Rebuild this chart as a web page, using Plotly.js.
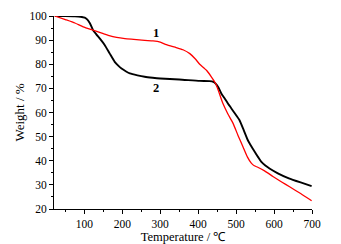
<!DOCTYPE html>
<html><head><meta charset="utf-8">
<script src="https://cdn.plot.ly/plotly-3.0.1.min.js"></script>
<style>html,body{margin:0;padding:0;background:#fff}#c{width:341px;height:244px}</style>
</head><body><div id="c"></div>
<script>
const temp2 = [22,50,75,90,101,108,115,123,132,141,154,167,180,190,198,210,220,240,259,280,300,350,404,430,440,446,453,461,470,478,495,509,520,531,540,549,558,566,577,588,610,639,670,699];
const weight2 = [100,100,99.9,99.7,99.3,98.5,96.9,94.1,92.3,90.6,87.9,84.4,81,79.3,78.2,77,76.2,75.4,74.8,74.4,74.1,73.7,73.1,73,72.7,72,70.5,67.9,65.8,63.8,60,56.8,52.7,48.5,46,43.7,41.5,39.6,38,36.8,34.8,32.7,31,29.5];
const temp1 = [22,50,75,97,123,150,163,185,207,230,259,281,300,316,342,360,378,392,404,422,446,465,478,492,505,518,530,540,548,557,575,597,620,641,670,699];
const weight1 = [100,98.5,97.1,95.5,94.1,92.7,92,91.1,90.6,90.3,89.9,89.7,89.2,88.1,86.9,86,84.4,82.3,80,77.5,72,63.8,59.5,55.5,50.5,45.8,41.5,39,37.9,37.3,35.8,33.5,31.2,29.2,26.4,23.4];
const labels = ["1","2"];
const labelX = [290,290];
const labelY = [92.8,70];

const font = {family:"'Liberation Serif', 'Times New Roman', serif", color:"#000", size:11.5};
const traces = [
  {x:temp2, y:weight2, mode:"lines", line:{color:"#000", width:1.9, shape:"spline", smoothing:0.5}, hoverinfo:"skip"},
  {x:temp1, y:weight1, mode:"lines", line:{color:"#ff0000", width:1.3, shape:"spline", smoothing:0.5}, hoverinfo:"skip"}
];
const ann = labels.map((t,i)=>({x:labelX[i], y:labelY[i], text:"<b>"+t+"</b>", showarrow:false, font:{...font, size:12.5}}));
const axBase = {showline:true, linecolor:"#000", linewidth:1, ticks:"outside", ticklen:4, tickcolor:"#000", showgrid:false, zeroline:false, tickfont:font, mirror:false};
const layout = {
  width:341, height:244, margin:{l:54, r:28.5, t:15.7, b:35, pad:0},
  paper_bgcolor:"#fff", plot_bgcolor:"#fff", showlegend:false, font:font,
  xaxis:{...axBase, range:[20,700], dtick:100, tick0:0, minor:{ticks:"outside", ticklen:2, dtick:50, tick0:0, tickcolor:"#000"},
    title:{text:"Temperature / ℃", font:{...font, size:12.5}, standoff:2}},
  yaxis:{...axBase, range:[20,100], dtick:10, tick0:0, minor:{ticks:"outside", ticklen:2, dtick:5, tick0:0, tickcolor:"#000"},
    title:{text:"Weight / %", font:{...font, size:13}, standoff:1}},
  annotations:ann
};
Plotly.newPlot("c", traces, layout, {staticPlot:true, displayModeBar:false});
</script></body></html>
